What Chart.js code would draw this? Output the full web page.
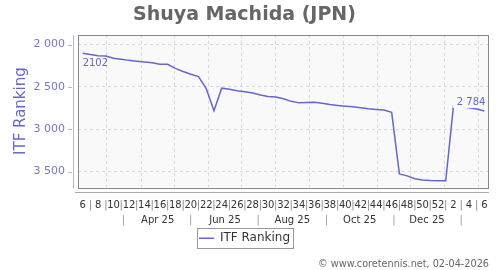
<!DOCTYPE html>
<html>
<head>
<meta charset="utf-8">
<script src="https://cdn.jsdelivr.net/npm/chart.js@4/dist/chart.umd.min.js"></script>
<style>
  html, body { margin: 0; padding: 0; background: #fff; }
  #wrap { width: 500px; height: 270px; }
</style>
</head>
<body>
<div id="wrap"><canvas id="rankChart" width="500" height="270"></canvas></div>
<script>
// ISO weeks from week 6 of 2025 to week 6 of 2026
var weekNumbers = [6, 7, 8, 9, 10, 11, 12, 13, 14, 15, 16, 17, 18, 19, 20, 21, 22, 23, 24, 25,
  26, 27, 28, 29, 30, 31, 32, 33, 34, 35, 36, 37, 38, 39, 40, 41, 42, 43, 44, 45, 46, 47, 48,
  49, 50, 51, 52, 1, 2, 3, 4, 5, 6];

var ranks = [2102, 2118, 2131, 2135, 2160, 2172, 2186, 2195, 2204, 2215,
  2232, 2232, 2280, 2318, 2350, 2378, 2520, 2780, 2514, 2528,
  2545, 2558, 2572, 2595, 2612, 2618, 2640, 2670, 2688, 2685,
  2681, 2692, 2708, 2718, 2727, 2734, 2745, 2757, 2765, 2773,
  2800, 3527, 3550, 3585, 3600, 3605, 3607, 3609, 2723, 2730,
  2745, 2760, 2784];

var yTicks = [2000, 2500, 3000, 3500];
var monthLabels = ['Apr 25', 'Jun 25', 'Aug 25', 'Oct 25', 'Dec 25'];
var labelMonths = [[2025, 3], [2025, 5], [2025, 7], [2025, 9], [2025, 11]];
var splitMonths = [[2025, 2], [2025, 4], [2025, 6], [2025, 8], [2025, 10], [2026, 0]];
var gridMonths = [[2025, 2], [2025, 3], [2025, 4], [2025, 5], [2025, 6], [2025, 7],
  [2025, 8], [2025, 9], [2025, 10], [2025, 11], [2026, 0], [2026, 1]];

var firstWeek = Date.UTC(2025, 1, 7);
function weekPos(y, m, d) {
  return (Date.UTC(y, m, d) - firstWeek) / (7 * 86400000);
}
function spaced(n) {
  return String(n).replace(/\B(?=(\d{3})+(?!\d))/g, ' ');
}

var monthTicks = [];
labelMonths.forEach(function (m, i) {
  monthTicks.push({ value: weekPos(m[0], m[1], 16), label: monthLabels[i] });
});
splitMonths.forEach(function (m) {
  monthTicks.push({ value: weekPos(m[0], m[1], 16), label: '|' });
});
monthTicks.sort(function (a, b) { return a.value - b.value; });

var xMin = -0.6, xMax = 52.6;
var lineColor = '#6666cc';
var plotBg = '#f9f9f9';

var framePlugin = {
  id: 'frame',
  beforeDraw: function (chart) {
    var a = chart.chartArea, c = chart.ctx;
    c.save();
    c.fillStyle = plotBg;
    c.fillRect(a.left, a.top, a.right - a.left, a.bottom - a.top);
    c.restore();
  },
  beforeDatasetsDraw: function (chart) {
    var a = chart.chartArea, c = chart.ctx, ys = chart.scales.y;
    c.save();
    c.lineWidth = 1;
    c.strokeStyle = '#888';
    c.strokeRect(Math.round(a.left) + 0.5, Math.round(a.top) + 0.5,
      Math.round(a.right - a.left) - 1, Math.round(a.bottom - a.top));
    // y axis line and small ticks
    c.strokeStyle = '#b4b4e6';
    c.beginPath();
    c.moveTo(Math.round(a.left) - 4.5, a.top);
    c.lineTo(Math.round(a.left) - 4.5, a.bottom + 1);
    yTicks.forEach(function (v) {
      var py = Math.round(ys.getPixelForValue(v)) + 0.5;
      c.moveTo(a.left - 10, py);
      c.lineTo(a.left - 6, py);
    });
    c.stroke();
    // x axis line
    c.strokeStyle = '#aaa';
    c.beginPath();
    c.moveTo(a.left - 3, Math.round(a.bottom) + 5.5);
    c.lineTo(a.right, Math.round(a.bottom) + 5.5);
    c.stroke();
    c.restore();
  },
  afterDatasetsDraw: function (chart) {
    var pts = chart.getDatasetMeta(0).data;
    var p0 = pts[0], pn = pts[pts.length - 1];
    var c = chart.ctx;
    c.save();
    c.font = '10px "DejaVu Sans"';
    c.fillStyle = lineColor;
    c.textAlign = 'left';
    c.textBaseline = 'middle';
    c.fillText(String(ranks[0]), p0.x, p0.y + 10);
    var last = spaced(ranks[ranks.length - 1]);
    var w = c.measureText(last).width;
    var ty = pn.y - 9;
    c.fillStyle = plotBg;
    c.fillRect(pn.x + 1 - w - 4, ty - 6, w + 6, 12);
    c.fillStyle = lineColor;
    c.textAlign = 'right';
    c.fillText(last, pn.x + 1, ty);
    c.restore();
  },
  afterDraw: function (chart) {
    var lg = chart.legend;
    if (!lg || !lg.legendHitBoxes.length) return;
    var hb = lg.legendHitBoxes[0], c = chart.ctx;
    var cy = hb.top + hb.height / 2;
    c.save();
    c.strokeStyle = '#999';
    c.lineWidth = 1;
    c.strokeRect(Math.round(hb.left) - 1.5, Math.round(cy - 10) + 0.5,
      Math.round(hb.width) + 5, 20);
    c.restore();
  }
};

Chart.defaults.font.family = 'DejaVu Sans';

var ctx = document.getElementById('rankChart').getContext('2d');
var chart = new Chart(ctx, {
  type: 'line',
  data: {
    datasets: [{
      label: 'ITF Ranking',
      data: ranks.map(function (r, i) { return { x: i, y: r }; }),
      borderColor: lineColor,
      backgroundColor: lineColor,
      borderWidth: 1.5,
      pointRadius: 0,
      tension: 0,
      fill: false
    }]
  },
  options: {
    responsive: false,
    animation: false,
    layout: { padding: { left: 0, right: 11, top: 0, bottom: 0 } },
    plugins: {
      title: {
        display: true,
        text: 'Shuya Machida (JPN)',
        color: '#666',
        font: { size: 19, weight: 'bold' },
        padding: { top: 4, bottom: 8 }
      },
      subtitle: {
        display: true,
        text: '\u00a9 www.coretennis.net, 02-04-2026',
        position: 'bottom',
        align: 'end',
        color: '#666',
        font: { size: 9.7 },
        padding: { top: 4, bottom: 0 }
      },
      legend: {
        position: 'bottom',
        labels: {
          usePointStyle: true,
          pointStyle: 'line',
          pointStyleWidth: 15,
          color: '#333',
          font: { size: 12 },
          padding: 6
        }
      },
      tooltip: { enabled: false }
    },
    scales: {
      xg: {
        type: 'linear',
        position: 'bottom',
        weight: 0,
        min: xMin,
        max: xMax,
        afterBuildTicks: function (s) {
          s.ticks = gridMonths.map(function (m) { return { value: weekPos(m[0], m[1], 1) }; });
        },
        ticks: { display: false },
        grid: { color: '#d8d8d8', drawTicks: false, borderDash: [3, 3] },
        border: { display: false, dash: [3, 3] },
        afterFit: function (s) { s.height = 0; }
      },
      x: {
        type: 'linear',
        position: 'bottom',
        weight: 1,
        min: xMin,
        max: xMax,
        afterBuildTicks: function (s) {
          s.ticks = weekNumbers.map(function (w, i) { return { value: i }; });
        },
        ticks: {
          autoSkip: false,
          maxRotation: 0,
          padding: 12,
          font: { size: 10 },
          color: function (c) { return c.index % 2 ? '#888' : '#333'; },
          callback: function (v, i) { return i % 2 ? '|' : String(weekNumbers[i]); }
        },
        grid: { display: false, drawTicks: false },
        border: { display: false },
        afterFit: function (s) { s.height = 24; }
      },
      xm: {
        type: 'linear',
        position: 'bottom',
        weight: 2,
        min: xMin,
        max: xMax,
        afterBuildTicks: function (s) {
          s.ticks = monthTicks.map(function (t) { return { value: t.value }; });
        },
        ticks: {
          autoSkip: false,
          maxRotation: 0,
          padding: 3,
          font: { size: 10 },
          color: function (c) { return monthTicks[c.index] && monthTicks[c.index].label === '|' ? '#999' : '#333'; },
          callback: function (v, i) { return monthTicks[i].label; }
        },
        grid: { display: false, drawTicks: false },
        border: { display: false },
        afterFit: function (s) { s.height = 15; }
      },
      y: {
        type: 'linear',
        reverse: true,
        min: 1884,
        max: 3686,
        afterBuildTicks: function (s) {
          s.ticks = yTicks.map(function (v) { return { value: v }; });
        },
        ticks: {
          padding: 13,
          color: '#7777cc',
          font: { size: 11 },
          callback: function (v) { return spaced(v); }
        },
        grid: { color: '#d8d8d8', drawTicks: false, borderDash: [3, 3] },
        border: { display: false, dash: [3, 3] },
        title: {
          display: true,
          text: 'ITF Ranking',
          color: lineColor,
          font: { size: 15 },
          padding: { top: 12, bottom: 0 }
        },
        afterFit: function (s) { s.width = 78; }
      }
    }
  },
  plugins: [framePlugin]
});
</script>
</body>
</html>
